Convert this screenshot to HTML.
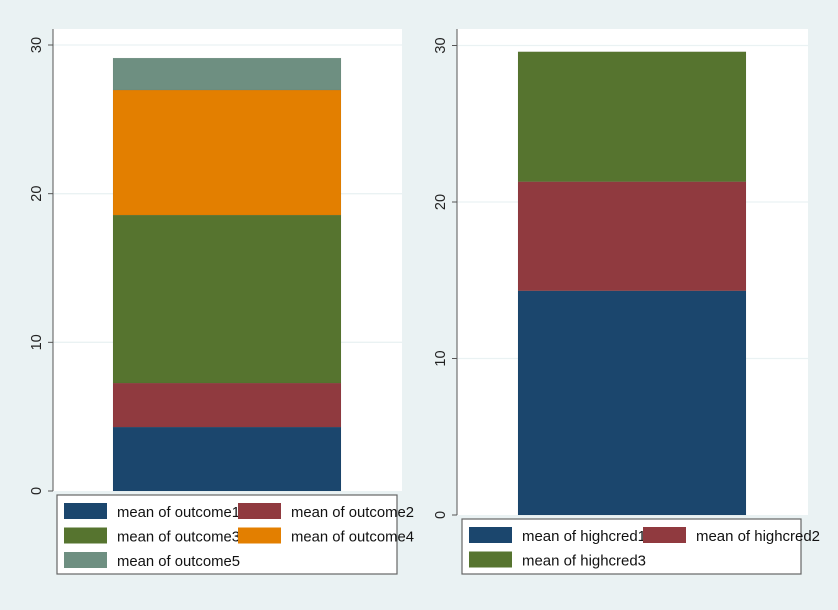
<!DOCTYPE html>
<html><head><meta charset="utf-8"><style>
html,body{margin:0;padding:0;background:#eaf2f3;}
svg{display:block;font-family:"Liberation Sans",sans-serif;}
</style></head><body>
<svg id="c" width="838" height="610" xmlns="http://www.w3.org/2000/svg">
<rect width="838" height="610" fill="#eaf2f3"/>
</svg>
<script>
const leftLabels = ["mean of outcome1","mean of outcome2","mean of outcome3","mean of outcome4","mean of outcome5"];
const leftValues = [4.3, 2.96, 11.3, 8.41, 2.15];
const rightLabels = ["mean of highcred1","mean of highcred2","mean of highcred3"];
const rightValues = [14.33, 6.97, 8.3];
const yTicks = [0, 10, 20, 30];
const colors = ["#1b466d","#903a3f","#56742f","#e37f00","#6e8f81"];

const NS="http://www.w3.org/2000/svg";
const svg=document.getElementById('c');
function mk(tag,attrs,parent){const e=document.createElementNS(NS,tag);for(const k in attrs)e.setAttribute(k,attrs[k]);(parent||svg).appendChild(e);return e;}

function panel(p){
  const g=mk('g',{});
  
  
  const bg=mk('rect',{x:p.x0,y:p.top,width:p.x1-p.x0,height:p.y0-p.top,fill:'#ffffff'},g);
  
  
  const ys=v=>p.y0-(p.y0-p.y30)*v/30;
  yTicks.forEach(t=>{
    const y=ys(t);
    if(t>0){const gl=mk('line',{x1:p.x0,x2:p.x1,y1:y,y2:y,stroke:'#eaf2f3','stroke-width':1.3},g);
      
      }
    const tk=mk('line',{x1:p.x0-5,x2:p.x0,y1:y,y2:y,stroke:'#555','stroke-width':1},g);
    
    
    const tx=mk('text',{x:0,y:0,transform:`translate(${p.x0-12},${y}) rotate(-90)`,'text-anchor':'middle','font-size':14.5,fill:'#222'},g);
    tx.textContent=t;
    
    
  });
  const ax=mk('line',{x1:p.x0,x2:p.x0,y1:p.top,y2:p.y0,stroke:'#555','stroke-width':1},g);
  
  
  let cum=0;
  p.values.forEach((v,i)=>{
    const yTop=ys(cum+v), yBot=ys(cum);
    const r=mk('rect',{x:p.bx0,width:p.bx1-p.bx0,y:yTop,height:yBot-yTop,fill:colors[i],stroke:'rgba(0,0,0,0.08)','stroke-width':0.5},g);
    
    
    cum+=v;
  });
  const lb=mk('rect',{x:p.lx,y:p.ly,width:p.lw,height:p.lh,fill:'#fff',stroke:'#666','stroke-width':1.2},g);
  
  
  p.labels.forEach((l,i)=>{
    const col=i%2,row=Math.floor(i/2);
    const sx=p.lx+7+col*174, sy=p.ly+8+row*24.5;
    const s=mk('rect',{x:sx,y:sy,width:43,height:16,fill:colors[i]},g);
    
    
    const t=mk('text',{x:sx+53,y:sy+14,'font-size':15,fill:'#111',textLength:p.tl,lengthAdjust:'spacingAndGlyphs'},g);
    t.textContent=l;
    
    
  });
}
panel({name:'left-panel',x0:53,x1:402,top:29,y0:491,y30:45,bx0:113,bx1:341,values:leftValues,labels:leftLabels,lx:57,ly:495,lw:340,lh:79,tl:123});
panel({name:'right-panel',x0:457,x1:808,top:29,y0:515,y30:45.5,bx0:518,bx1:746,values:rightValues,labels:rightLabels,lx:462,ly:519,lw:339,lh:55,tl:124});
</script>
</body></html>
